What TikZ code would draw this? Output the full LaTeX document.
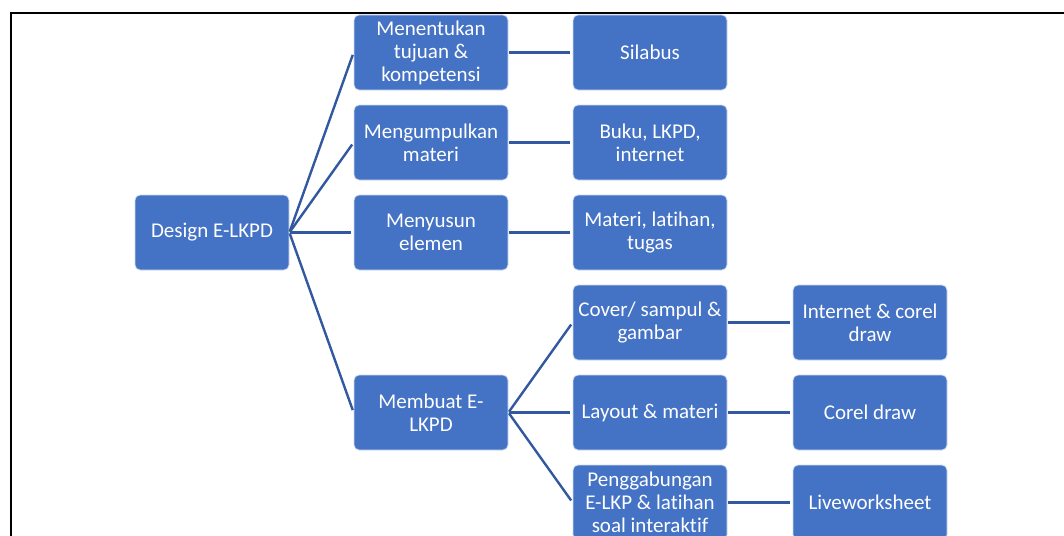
\documentclass[tikz,border=0pt]{standalone}
\usepackage{fontspec}
\setmainfont{Carlito}[Ligatures={NoCommon}]
\definecolor{boxblue}{HTML}{4472C4}
\definecolor{linkblue}{RGB}{50,88,160}
\begin{document}
\begin{tikzpicture}[x=1pt,y=-1pt,
  box/.style={rectangle,rounded corners=5pt,fill=boxblue,draw=white!75!boxblue,line width=0.8pt,
    minimum width=154pt,minimum height=75pt,inner sep=0pt,text=white,align=center,
    font=\fontsize{21}{23}\selectfont},
  link/.style={draw=linkblue,line width=2.4pt,shorten >=2.5pt,shorten <=1pt}]
\useasboundingbox (0,0) rectangle (1064,535);
\clip (0,0) rectangle (1064,535);
\draw[line width=2pt,black] (10.5,540) -- (10.5,13) -- (1070,13);
\node[box] (d) at (212,232.5) {Design E-LKPD};
\node[box] (a1) at (431,52.5) {Menentukan\\tujuan \&\\kompetensi};
\node[box] (a2) at (431,142.5) {Mengumpulkan\\materi};
\node[box] (a3) at (431,232.5) {Menyusun\\elemen};
\node[box] (a4) at (431,412.5) {Membuat E-\\LKPD};
\node[box] (b1) at (650,52.5) {Silabus};
\node[box] (b2) at (650,142.5) {Buku, LKPD,\\internet};
\node[box] (b3) at (650,232.5) {Materi, latihan,\\tugas};
\node[box] (b4) at (650,322.5) {Cover/ sampul \&\\gambar};
\node[box] (b5) at (650,412.5) {Layout \& materi};
\node[box] (b6) at (650,502.5) {Penggabungan\\E-LKP \& latihan\\soal interaktif};
\node[box] (c1) at (870,322.5) {Internet \& corel\\draw};
\node[box] (c2) at (870,412.5) {Corel draw};
\node[box] (c3) at (870,502.5) {Liveworksheet};
\foreach \t in {a1,a2,a3,a4} \draw[link] (d.east) -- (\t.west);
\foreach \s/\t in {a1/b1,a2/b2,a3/b3} \draw[link] (\s.east) -- (\t.west);
\foreach \t in {b4,b5,b6} \draw[link] (a4.east) -- (\t.west);
\foreach \s/\t in {b4/c1,b5/c2,b6/c3} \draw[link] (\s.east) -- (\t.west);
\end{tikzpicture}
\end{document}
